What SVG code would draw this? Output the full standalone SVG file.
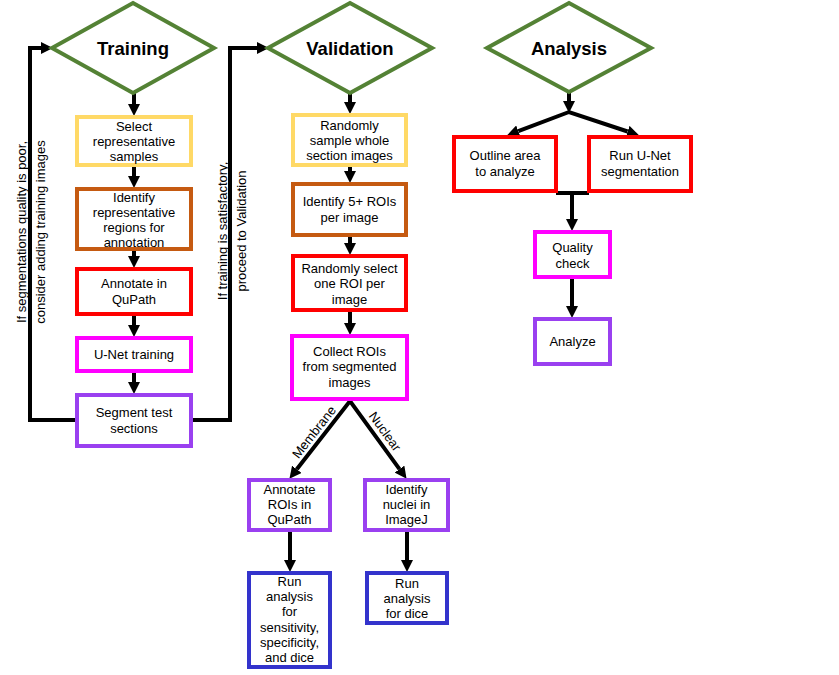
<svg xmlns="http://www.w3.org/2000/svg" width="839" height="675" viewBox="0 0 839 675">
<defs>
<style>
.t{font-family:"Liberation Sans",Arial,sans-serif;font-size:13px;fill:#000;text-anchor:middle}
.h{font-family:"Liberation Sans",Arial,sans-serif;font-size:18.5px;font-weight:bold;fill:#000;text-anchor:middle}
.box{fill:#fff;stroke-width:4}
.dia{fill:#fff;stroke:#548235;stroke-width:4}
.yel{stroke:#FFD966}.brn{stroke:#C55A11}.red{stroke:#FF0000}.mag{stroke:#FF00FF}.pur{stroke:#9A40F0}.blu{stroke:#3333CC}
.c{fill:none;stroke:#000;stroke-width:4;stroke-linejoin:miter}
.a{marker-end:url(#ah)}
.aa{marker-start:url(#ah);marker-end:url(#ah)}
</style>
<marker id="ah" markerUnits="userSpaceOnUse" markerWidth="12" markerHeight="12" refX="0" refY="5.5" orient="auto-start-reverse" viewBox="0 0 11 11">
<path d="M0,0 L11,5.5 L0,11 z" fill="#000"/>
</marker>
</defs>
<rect width="839" height="675" fill="#fff"/>

<g id="connectors">
<path class="c a" d="M134,93 V104"/>
<path class="c a" d="M134,167 V176"/>
<path class="c a" d="M134,251 V256"/>
<path class="c a" d="M134,316 V325"/>
<path class="c a" d="M134,373 V382"/>
<path class="c a" d="M75,420 H30 V48 H41"/>
<path class="c a" d="M193,420 H230 V48 H257"/>
<path class="c a" d="M350,93 V102"/>
<path class="c a" d="M350,167 V171"/>
<path class="c a" d="M350,237 V243"/>
<path class="c a" d="M350,312 V323"/>
<path class="c aa" d="M296.8,469.3 L350,401 L399.5,469.1"/>
<path class="c a" d="M290,532 V560"/>
<path class="c a" d="M407,532 V560"/>
<path class="c a" d="M569,92 V101"/>
<path class="c aa" d="M518.3,131.1 L569,112 L627.6,131.5"/>
<path class="c" d="M556,193 H589"/>
<path class="c a" d="M572,193 V219"/>
<path class="c a" d="M572,279 V306"/>
<text class="t" transform="translate(317.5,434.8) rotate(-52)">Membrane</text>
<text class="t" transform="translate(381.4,434.1) rotate(54)">Nuclear</text>
<text class="t" transform="translate(26,232) rotate(-90)">If segmentations quality is poor,</text>
<text class="t" transform="translate(45,232) rotate(-90)">consider adding training images</text>
<text class="t" transform="translate(227,231) rotate(-90)">If training is satisfactory,</text>
<text class="t" transform="translate(246,231) rotate(-90)">proceed to Validation</text>
</g>

<g id="training">
<polygon class="dia" points="133,3 214,48 133,93 52,48"/>
<text class="h" x="133" y="55">Training</text>
</g>
<g id="select-samples">
<rect class="box yel" x="77" y="117" width="114" height="48"/>
<text class="t" x="134" y="130.5">Select</text>
<text class="t" x="134" y="145.5">representative</text>
<text class="t" x="134" y="160.5">samples</text>
</g>
<g id="identify-regions">
<rect class="box brn" x="77" y="189" width="114" height="60"/>
<text class="t" x="134" y="201.5">Identify</text>
<text class="t" x="134" y="216.5">representative</text>
<text class="t" x="134" y="231.5">regions for</text>
<text class="t" x="134" y="246.5">annotation</text>
</g>
<g id="annotate-qupath">
<rect class="box red" x="77" y="269" width="114" height="45"/>
<text class="t" x="134" y="288">Annotate in</text>
<text class="t" x="134" y="303.5">QuPath</text>
</g>
<g id="unet-training">
<rect class="box mag" x="77" y="338" width="114" height="33"/>
<text class="t" x="134" y="358.5">U-Net training</text>
</g>
<g id="segment-test">
<rect class="box pur" x="77" y="395" width="114" height="51"/>
<text class="t" x="134" y="417">Segment test</text>
<text class="t" x="134" y="432.5">sections</text>
</g>

<g id="validation">
<polygon class="dia" points="350,3 432,48 350,93 268,48"/>
<text class="h" x="350" y="55">Validation</text>
</g>
<g id="random-sample">
<rect class="box yel" x="293" y="115" width="113" height="50"/>
<text class="t" x="349.5" y="129.5">Randomly</text>
<text class="t" x="349.5" y="144.5">sample whole</text>
<text class="t" x="349.5" y="159.5">section images</text>
</g>
<g id="identify-rois">
<rect class="box brn" x="293" y="184" width="113" height="51"/>
<text class="t" x="349.5" y="206">Identify 5+ ROIs</text>
<text class="t" x="349.5" y="222">per image</text>
</g>
<g id="random-select">
<rect class="box red" x="293" y="256" width="113" height="54"/>
<text class="t" x="349.5" y="272.5">Randomly select</text>
<text class="t" x="349.5" y="288">one ROI per</text>
<text class="t" x="349.5" y="303.5">image</text>
</g>
<g id="collect-rois">
<rect class="box mag" x="292" y="336" width="115" height="63"/>
<text class="t" x="349.5" y="355.5">Collect ROIs</text>
<text class="t" x="349.5" y="371">from segmented</text>
<text class="t" x="349.5" y="386.5">images</text>
</g>
<g id="annotate-rois">
<rect class="box pur" x="249" y="480" width="81" height="50"/>
<text class="t" x="289.5" y="493.5">Annotate</text>
<text class="t" x="289.5" y="509">ROIs in</text>
<text class="t" x="289.5" y="524">QuPath</text>
</g>
<g id="identify-nuclei">
<rect class="box pur" x="365" y="480" width="83" height="50"/>
<text class="t" x="406.5" y="493.5">Identify</text>
<text class="t" x="406.5" y="509">nuclei in</text>
<text class="t" x="406.5" y="524">ImageJ</text>
</g>
<g id="run-analysis-membrane">
<rect class="box blu" x="249" y="573" width="81" height="94"/>
<text class="t" x="289.5" y="585.5">Run</text>
<text class="t" x="289.5" y="601">analysis</text>
<text class="t" x="289.5" y="616">for</text>
<text class="t" x="289.5" y="631.5">sensitivity,</text>
<text class="t" x="289.5" y="647">specificity,</text>
<text class="t" x="289.5" y="662">and dice</text>
</g>
<g id="run-analysis-nuclear">
<rect class="box blu" x="367" y="573" width="80" height="50"/>
<text class="t" x="407" y="587.5">Run</text>
<text class="t" x="407" y="603">analysis</text>
<text class="t" x="407" y="618">for dice</text>
</g>

<g id="analysis">
<polygon class="dia" points="569,3 651,48 569,92 487,48"/>
<text class="h" x="569" y="55">Analysis</text>
</g>
<g id="outline-area">
<rect class="box red" x="454" y="137" width="102" height="54"/>
<text class="t" x="505" y="159.5">Outline area</text>
<text class="t" x="505" y="176">to analyze</text>
</g>
<g id="run-unet">
<rect class="box red" x="589" y="137" width="102" height="54"/>
<text class="t" x="640" y="159.5">Run U-Net</text>
<text class="t" x="640" y="176">segmentation</text>
</g>
<g id="quality-check">
<rect class="box mag" x="535" y="232" width="75" height="45"/>
<text class="t" x="572.5" y="252">Quality</text>
<text class="t" x="572.5" y="267.5">check</text>
</g>
<g id="analyze">
<rect class="box pur" x="535" y="319" width="75" height="45"/>
<text class="t" x="572.5" y="345.5">Analyze</text>
</g>
</svg>
